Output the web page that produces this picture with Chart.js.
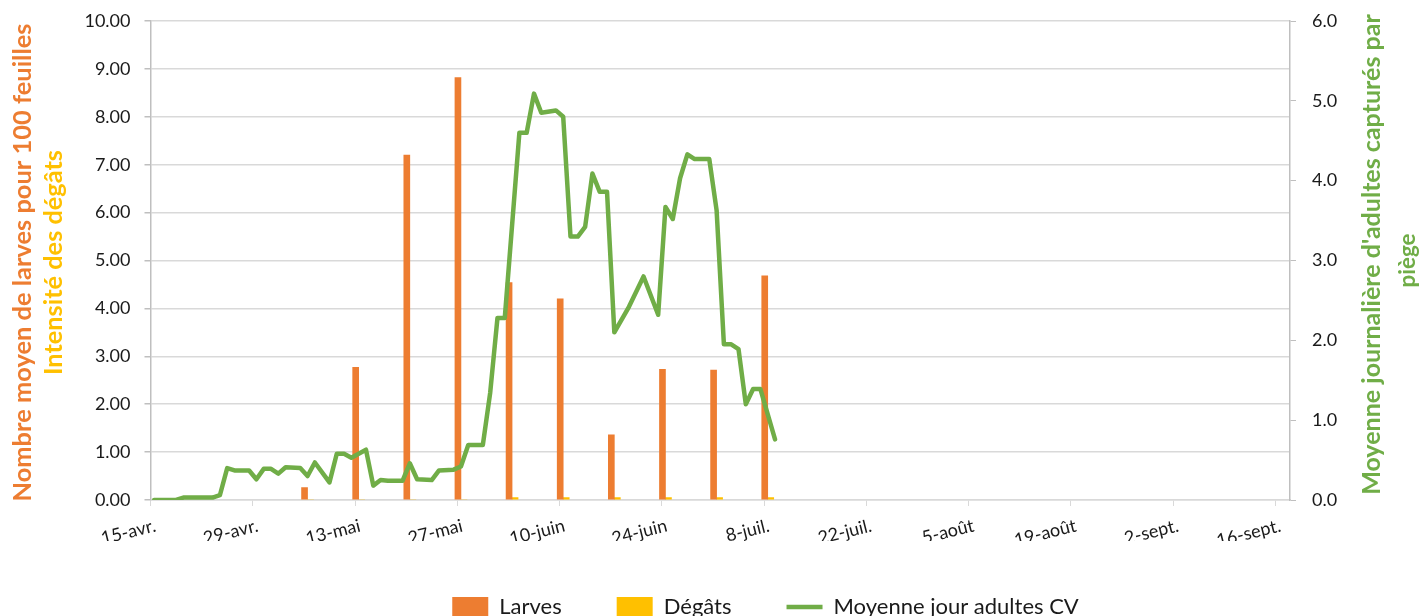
<!DOCTYPE html>
<html><head><meta charset="utf-8">
<script src="https://cdn.jsdelivr.net/npm/chart.js@4/dist/chart.umd.min.js"></script>
<style>
html,body{margin:0;padding:0;overflow:hidden;background:#fff;}
#wrap{position:relative;width:1421px;height:628px;}
</style></head><body>
<div id="wrap"><canvas id="c"></canvas></div>
<script>
// ---- data ----
const tickDays = [0,14,28,42,56,70,84,98,112,126,140,154];
const tickLabels = ['15-avr.','29-avr.','13-mai','27-mai','10-juin','24-juin','8-juil.','22-juil.','5-août','19-août','2-sept.','16-sept.'];
const sampleDays = [21,28,35,42,49,56,63,70,77,84];
const larvesValues = [0.26,2.77,7.20,8.82,4.54,4.20,1.36,2.73,2.71,4.68];
const degatsValues = [0,0,0,0,0.05,0.05,0.05,0.05,0.05,0.05];
const adultDays = [0,3,4,8,9,10,11,13,14,15,16,17,18,20,21,22,24,25,26,27,29,30,31,32,34,35,36,38,39,41,42,43,45,46,47,48,50,51,52,53,55,56,57,58,59,60,61,62,63,65,67,69,70,71,72,73,74,76,77,78,79,80,81,82,83,85];
const adultValues = [0,0,0.03,0.03,0.06,0.40,0.37,0.37,0.26,0.39,0.39,0.33,0.41,0.40,0.30,0.47,0.22,0.58,0.58,0.53,0.63,0.18,0.25,0.24,0.24,0.46,0.26,0.25,0.37,0.38,0.42,0.69,0.69,1.34,2.28,2.28,4.60,4.60,5.09,4.85,4.88,4.80,3.30,3.30,3.42,4.09,3.86,3.86,2.10,2.42,2.80,2.32,3.67,3.52,4.03,4.33,4.27,4.27,3.63,1.95,1.95,1.89,1.20,1.39,1.39,0.76];
const axisMaxDay = 156;
const leftTitle1 = 'Nombre moyen de larves pour 100 feuilles';
const leftTitle2 = 'Intensité des dégâts';
const rightTitle1 = "Moyenne journalière d'adultes capturés par";
const rightTitle2 = 'piège';

// ---- styles ----
const ORANGE = '#ED7D31', YELLOW = '#FFC000', GREEN = '#70AD47';
const FONT = 'Lato, "Open Sans", sans-serif';
const SLOT = 0.5; // daily slot centre
Chart.defaults.font.family = FONT;
Chart.defaults.color = '#1a1a1a';

const pts = (xs, ys) => xs.map((d, i) => ({x: d + SLOT, y: ys[i]}));

const titlePlugin = {
  id: 'axisTitles',
  afterDraw(chart) {
    const ctx = chart.ctx;
    const a = chart.chartArea;
    const cy = (a.top + a.bottom) / 2;
    function draw(text, x, y, color, targetLen) {
      ctx.save();
      ctx.font = 'bold 100px ' + FONT;
      const w = ctx.measureText(text).width;
      const size = 100 * targetLen / w;
      ctx.font = 'bold ' + size.toFixed(2) + 'px ' + FONT;
      ctx.translate(x, y);
      ctx.rotate(-Math.PI / 2);
      ctx.fillStyle = color;
      ctx.textAlign = 'center';
      ctx.textBaseline = 'middle';
      ctx.fillText(text, 0, 0);
      ctx.restore();
    }
    draw(leftTitle1, 23, cy + 2, ORANGE, 478);
    draw(leftTitle2, 54, cy + 2, YELLOW, 225);
    draw(rightTitle1, 1372, cy - 6, GREEN, 481);
    draw(rightTitle2, 1408, cy, GREEN, 54);
  }
};

const legendShift = {
  id: 'legendShift',
  afterLayout(chart) {
    const lg = chart.legend;
    if (lg) { lg.left += 55; lg.right += 55; }
  }
};

function fixY(width) {
  return function (scale) { scale.width = width; scale.paddingTop = 4; scale.paddingBottom = 4; };
}

new Chart(document.getElementById('c'), {
  type: 'bar',
  data: {
    datasets: [
      {label: 'Larves', data: pts(sampleDays, larvesValues), backgroundColor: ORANGE, borderWidth: 0, barThickness: 6, yAxisID: 'y', order: 1},
      {label: 'Dégâts', data: pts(sampleDays, degatsValues), backgroundColor: YELLOW, borderWidth: 0, barThickness: 6, yAxisID: 'y', order: 1},
      {type: 'line', label: 'Moyenne jour adultes CV', data: pts(adultDays, adultValues), borderColor: GREEN, backgroundColor: GREEN, borderWidth: 4.5, pointRadius: 0, pointStyle: 'line', tension: 0, borderJoinStyle: 'round', borderCapStyle: 'round', yAxisID: 'y2', order: 0}
    ]
  },
  options: {
    responsive: true,
    maintainAspectRatio: false,
    animation: false,
    layout: {padding: {top: 21, left: 0, right: 0, bottom: 0}},
    plugins: {
      tooltip: {enabled: false},
      legend: {
        position: 'bottom',
        labels: {
          font: {size: 22}, color: '#1a1a1a',
          usePointStyle: true, pointStyleWidth: 36, boxWidth: 36, boxHeight: 20, padding: 55,
          sort: (a, b) => a.datasetIndex - b.datasetIndex,
          generateLabels(chart) {
            const items = Chart.defaults.plugins.legend.labels.generateLabels(chart);
            items.forEach(it => {
              if (it.datasetIndex === 2) { it.pointStyle = 'line'; it.lineWidth = 4.5; it.strokeStyle = GREEN; }
              else { it.pointStyle = 'rect'; it.lineWidth = 0; }
            });
            return items;
          }
        }
      }
    },
    scales: {
      x: {
        type: 'linear', min: 0, max: axisMaxDay, offset: false,
        afterBuildTicks(scale) { scale.ticks = tickDays.map(v => ({value: v})); },
        afterFit(scale) { scale.height = 41; },
        grid: {drawOnChartArea: false, offset: false, tickLength: 6, color: '#D9D9D9', tickColor: '#D9D9D9'},
        border: {color: '#D9D9D9', width: 1.5},
        ticks: {
          autoSkip: false, minRotation: 14, maxRotation: 14, padding: 9, labelOffset: 5,
          font: {size: 18},
          callback: (v) => tickLabels[tickDays.indexOf(v)]
        }
      },
      y: {
        position: 'left', min: 0, max: 10,
        afterFit: fixY(150.5),
        grid: {color: '#D9D9D9', lineWidth: 1.5, tickLength: 6, tickColor: '#BFBFBF'},
        border: {color: '#BFBFBF', width: 1.5},
        ticks: {stepSize: 1, padding: 14, font: {size: 18}, callback: v => v.toFixed(2)}
      },
      y2: {
        position: 'right', min: 0, max: 6,
        afterFit: fixY(131),
        grid: {drawOnChartArea: false, tickLength: 6, color: '#BFBFBF'},
        border: {color: '#BFBFBF', width: 1.5},
        ticks: {stepSize: 1, padding: 16, font: {size: 18}, callback: v => v.toFixed(1)}
      }
    }
  },
  plugins: [titlePlugin, legendShift]
});
</script>
</body></html>
